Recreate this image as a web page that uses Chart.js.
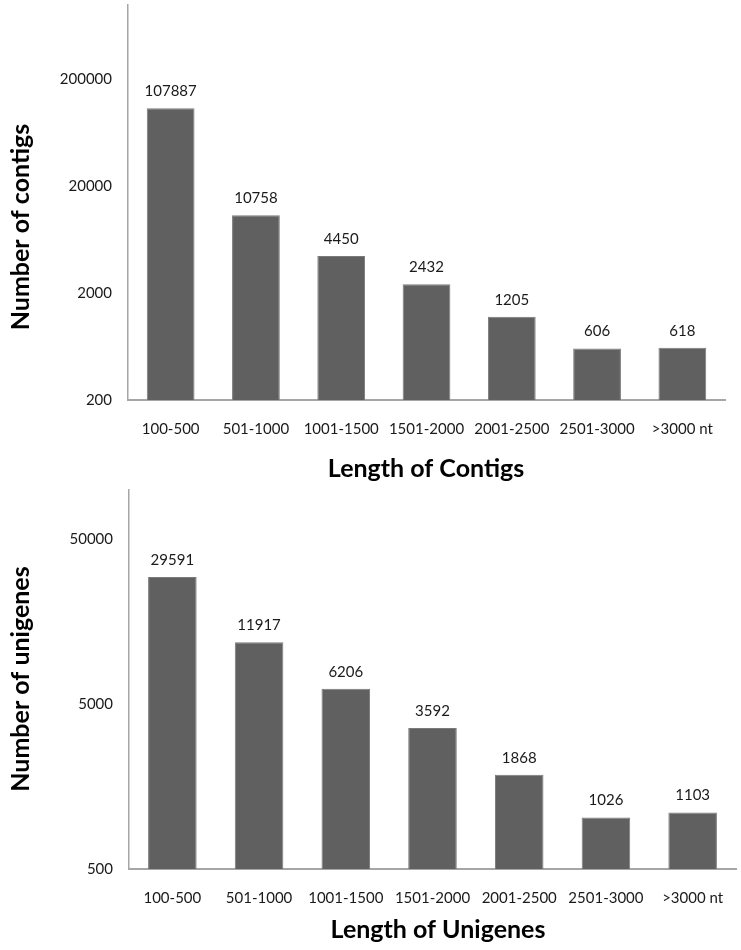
<!DOCTYPE html>
<html>
<head>
<meta charset="utf-8">
<script src="https://cdn.jsdelivr.net/npm/chart.js@4"></script>
<style>
    html, body { margin: 0; padding: 0; background: #fff; }
    .box { position: absolute; left: 0; width: 741px; }
    #box1 { top: 0; height: 495px; }
    #box2 { top: 480px; height: 470px; }
</style>
</head>
<body>
<div class="box" id="box1"><canvas id="contigChart"></canvas></div>
<div class="box" id="box2"><canvas id="unigeneChart"></canvas></div>
<script>
// Length bins (shared by both charts)
const lengthBins = ['100-500', '501-1000', '1001-1500', '1501-2000', '2001-2500', '2501-3000', '>3000 nt'];

// Contigs
const contigCounts = [107887, 10758, 4450, 2432, 1205, 606, 618];
const contigTicks = [200, 2000, 20000, 200000];

// Unigenes
const unigeneCounts = [29591, 11917, 6206, 3592, 1868, 1026, 1103];
const unigeneTicks = [500, 5000, 50000];

const FONT = 'Lato, "Open Sans", sans-serif';
const BAR_FILL = '#606060';
const AXIS_GRAY = '#a6a6a6';

// draws value labels above bars plus the two axis titles
const annotations = {
    id: 'annotations',
    afterDatasetsDraw(chart, args, opts) {
        const ctx = chart.ctx;
        const meta = chart.getDatasetMeta(0);
        const values = chart.data.datasets[0].data;
        ctx.save();
        ctx.fillStyle = '#1a1a1a';
        ctx.font = '15px ' + FONT;
        ctx.textAlign = 'center';
        ctx.textBaseline = 'middle';
        meta.data.forEach((bar, i) => {
            ctx.fillText(String(values[i]), bar.x, bar.y - 17);
        });

        ctx.fillStyle = '#000';
        ctx.font = 'bold 25px ' + FONT;
        ctx.fillText(opts.xTitle, opts.xTitleAt[0], opts.xTitleAt[1]);

        ctx.translate(opts.yTitleAt[0], opts.yTitleAt[1]);
        ctx.rotate(-Math.PI / 2);
        ctx.fillText(opts.yTitle, 0, 0);
        ctx.restore();
    }
};

function noPadding(scale) {
    scale.paddingTop = 0;
    scale.paddingBottom = 0;
    scale.paddingLeft = 0;
    scale.paddingRight = 0;
}

function makeChart(canvasId, counts, ticks, cfg) {
    return new Chart(document.getElementById(canvasId), {
        type: 'bar',
        data: {
            labels: lengthBins,
            datasets: [{
                data: counts,
                backgroundColor: BAR_FILL,
                borderColor: '#7a7a7a',
                borderWidth: 1,
                barPercentage: 0.56,
                categoryPercentage: 1
            }]
        },
        options: {
            responsive: true,
            maintainAspectRatio: false,
            animation: false,
            layout: { padding: { top: cfg.top, right: cfg.right, left: 0, bottom: cfg.bottom } },
            scales: {
                x: {
                    type: 'category',
                    grid: { display: false, drawTicks: false },
                    border: { display: true, color: AXIS_GRAY, width: 2 },
                    ticks: { color: '#1a1a1a', font: { size: 15, family: FONT }, padding: 20, maxRotation: 0, autoSkip: false },
                    afterFit: (scale) => { scale.height = cfg.xHeight; noPadding(scale); }
                },
                y: {
                    type: 'logarithmic',
                    min: cfg.min,
                    max: cfg.max,
                    grid: { display: false, drawTicks: false },
                    border: { display: true, color: AXIS_GRAY, width: 1.5 },
                    ticks: {
                        color: '#1a1a1a',
                        font: { size: 15, family: FONT },
                        padding: 16,
                        callback: (v) => String(v)
                    },
                    afterBuildTicks: (scale) => { scale.ticks = ticks.map(v => ({ value: v })); },
                    afterFit: (scale) => { scale.width = cfg.yWidth; noPadding(scale); }
                }
            },
            plugins: {
                legend: { display: false },
                tooltip: { enabled: false },
                annotations: {
                    xTitle: cfg.xTitle, xTitleAt: cfg.xTitleAt,
                    yTitle: cfg.yTitle, yTitleAt: cfg.yTitleAt
                }
            }
        },
        plugins: [annotations]
    });
}

makeChart('contigChart', contigCounts, contigTicks, {
    top: 5, right: 16, bottom: 15, yWidth: 128, xHeight: 80, min: 200, max: 1000000,
    xTitle: 'Length of Contigs', xTitleAt: [426, 469],
    yTitle: 'Number of contigs', yTitleAt: [21, 227]
});

makeChart('unigeneChart', unigeneCounts, unigeneTicks, {
    top: 10, right: 5, bottom: 0, yWidth: 129, xHeight: 81, min: 500, max: 100000,
    xTitle: 'Length of Unigenes', xTitleAt: [438, 450],
    yTitle: 'Number of unigenes', yTitleAt: [21, 199]
});
</script>
</body>
</html>
